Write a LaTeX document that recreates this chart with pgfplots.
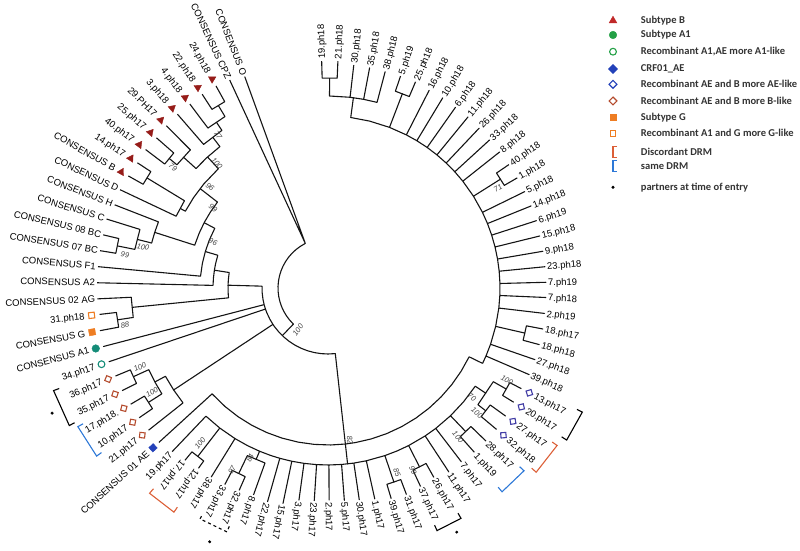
\documentclass[border=0pt]{standalone}
\usepackage{pgfplots}
\pgfplotsset{compat=1.18}
\usepackage{fontspec}
\setmainfont{Liberation Sans}
\newfontfamily\legfont{Carlito}
\definecolor{triR}{RGB}{150,28,25}
\definecolor{legR}{RGB}{192,40,40}
\definecolor{tealA}{RGB}{20,140,120}
\definecolor{legG}{RGB}{35,160,70}
\definecolor{aeB}{RGB}{35,65,185}
\definecolor{dB}{RGB}{65,60,165}
\definecolor{dR}{RGB}{180,75,45}
\definecolor{orng}{RGB}{238,125,35}
\definecolor{discR}{RGB}{220,95,55}
\definecolor{sameB}{RGB}{45,120,215}
\tikzset{
 leaflab/.style={font=\fontsize{9.5}{10}\selectfont, inner sep=0pt, text height=6.8pt, text depth=0pt, text=black},
 bslab/.style={font=\fontsize{7.5}{8}\selectfont\itshape, inner sep=0pt, text=black!75},
 leglab/.style={font=\legfont\bfseries\fontsize{10.5}{12}\selectfont, inner sep=0pt, text=black!80, anchor=west},
}
\pgfplotsset{
 tree/.style={data cs=polar, black!92, line width=1.1pt, line join=round, mark=none},
 brk/.style={data cs=polar, line width=1.1pt, mark=none},
}
\newcommand\leaf[3]{%
 \ifdim #1pt<-130pt
  \node[leaflab,rotate={#1+180},anchor=east] at ([shift={(#1:#2pt)}]C) {#3};
 \else
  \node[leaflab,rotate=#1,anchor=west] at ([shift={(#1:#2pt)}]C) {#3};
 \fi}
\newcommand\bsv[4]{\node[bslab,rotate=#3] at ([shift={(#1pt,#2pt)}]C) {#4};}
\newcommand\legtext[2]{\node[leglab] at ([shift={(312.7pt,#1pt)}]C) {#2};}
\begin{document}
\begin{tikzpicture}
\begin{axis}[scale only axis, width=800pt, height=551pt, xmin=-328, xmax=472, ymin=-263, ymax=288, hide axis, clip=false]
\coordinate (C) at (axis cs:0,0);
% ---------- root
\addplot[tree] coordinates {(-133.8,66) (-133.8,50) (-140,50) (-146,50) (-152,50) (-158,50) (-164,50) (-170,50) (-176,50) (-182,50) (-188,50) (-194,50) (-200,50) (-206,50) (-212,50) (-218,50) (-224,50) (-230,50) (-236,50) (-242,50) (-243,50) (-248.5,227) (-243,50) (-244.7,230)};
% ---------- NH
\addplot[tree] coordinates {(-83.65,157) (-83.65,66) (-90,66) (-96,66) (-102,66) (-108,66) (-114,66) (-120,66) (-126,66) (-132,66) (-138,66) (-144,66) (-146.55,66) (-146.55,185) (-146.55,66) (-152,66) (-158,66) (-161.4,66) (-161.4,231) (-161.4,66) (-165.4,66) (-165.4,232) (-165.4,66) (-170,66) (-176,66) (-181.6,66) (-181.6,100)};
% ---------- M
\addplot[tree] coordinates {(-26,172) (-26,157) (-32,157) (-38,157) (-44,157) (-50,157) (-56,157) (-62,157) (-68,157) (-74,157) (-80,157) (-83.65,157) (-83.65,177) (-83.65,157) (-89,157) (-95,157) (-101,157) (-107,157) (-113,157) (-119,157) (-125,157) (-131,157) (-137.6,157) (-137.6,229)};
% ---------- X
\addplot[tree] coordinates {(82.4,192) (82.4,172) (76,172) (69.05,172) (69.05,208) (69.05,172) (62.9,172) (62.9,222) (62.9,172) (58.9,172) (58.9,222) (58.9,172) (54.8,172) (54.8,221) (54.8,172) (50.7,172) (50.7,221) (50.7,172) (46.6,172) (46.6,220) (46.6,172) (42.5,172) (42.5,219) (42.5,172) (38.4,172) (38.4,219) (38.4,172) (32.25,172) (32.25,204) (32.25,172) (26.1,172) (26.1,219) (26.1,172) (22,172) (22,219) (22,172) (17.9,172) (17.9,219) (17.9,172) (13.8,172) (13.8,218) (13.8,172) (9.7,172) (9.7,218) (9.7,172) (5.6,172) (5.6,218) (5.6,172) (1.5,172) (1.5,218) (1.5,172) (-2.5,172) (-2.5,218) (-2.5,172) (-6.7,172) (-6.7,218) (-6.7,172) (-12.9,172) (-12.9,202) (-12.9,172) (-19.1,172) (-19.1,219) (-19.1,172) (-23.3,172) (-23.3,219) (-23.3,172) (-26,172)};
\addplot[tree] coordinates {(89.55,210) (89.55,192) (83.4,192) (83.4,224) (83.4,192) (79.3,192) (79.3,224) (79.3,192) (75.2,192) (75.2,224)};
\addplot[tree] coordinates {(91.6,227) (91.6,210) (87.5,210) (87.5,227)};
\addplot[tree] coordinates {(71.1,224) (71.1,208) (67,208) (67,224)};
\addplot[tree] coordinates {(34.3,219) (34.3,204) (30.2,204) (30.2,219)};
\addplot[tree] coordinates {(-10.8,219) (-10.8,202) (-15,202) (-15,219)};
% ---------- B
\addplot[tree] coordinates {(-33.7,190) (-33.7,177) (-40,177) (-46.2,177) (-46.2,199) (-46.2,177) (-52.5,177) (-52.5,219) (-52.5,177) (-56.7,177) (-56.7,220) (-56.7,177) (-62.9,177) (-62.9,201) (-62.9,177) (-67,177) (-71.25,177) (-71.25,205) (-71.25,177) (-77.5,177) (-77.5,216) (-77.5,177) (-81.6,177) (-81.6,214) (-81.6,177) (-85.6,177) (-85.6,213) (-85.6,177) (-89.7,177) (-89.7,212) (-89.7,177) (-93.7,177) (-93.7,213) (-93.7,177) (-97.8,177) (-97.8,214) (-97.8,177) (-101.8,177) (-101.8,220) (-101.8,177) (-105.8,177) (-105.8,222) (-105.8,177) (-109,177) (-112.75,177) (-112.75,186) (-112.75,177) (-117,177) (-121.7,177) (-121.7,222) (-121.7,177) (-127.7,177) (-127.7,213) (-127.7,177) (-133.6,177) (-133.6,226)};
\addplot[tree] coordinates {(-29.55,205) (-29.55,190) (-37.9,190) (-37.9,200)};
\addplot[tree] coordinates {(-27.5,218) (-27.5,205) (-31.6,205) (-31.6,218)};
\addplot[tree] coordinates {(-35.8,219) (-35.8,200) (-40,200) (-40,220)};
\addplot[tree] coordinates {(-44.1,220) (-44.1,199) (-48.3,199) (-48.3,220)};
\addplot[tree] coordinates {(-60.8,217) (-60.8,201) (-65,201) (-65,219)};
\addplot[tree] coordinates {(-69.2,221) (-69.2,205) (-73.3,205) (-73.3,220)};
\addplot[tree] coordinates {(-109.8,220) (-109.8,186) (-115.7,186) (-115.7,206)};
\addplot[tree] coordinates {(-113.7,221) (-113.7,206) (-117.7,206) (-117.7,222)};
\addplot[tree] coordinates {(-125.7,222) (-125.7,213) (-129.7,213) (-129.7,224)};
% ---------- recombinant B-like clade
\addplot[tree] coordinates {(-141.6,229) (-141.6,185) (-146.55,185) (-151.5,185) (-151.5,197)};
\addplot[tree] coordinates {(-147.5,213) (-147.5,197) (-151.5,197) (-155.5,197) (-155.5,214)};
\addplot[tree] coordinates {(-145.5,229) (-145.5,213) (-149.5,213) (-149.5,229)};
\addplot[tree] coordinates {(-153.5,230) (-153.5,214) (-157.5,214) (-157.5,230)};
% ---------- left ladder
\addplot[tree] coordinates {(-174.35,197) (-174.35,100) (-178,100) (-181.6,100) (-185,100) (-188.9,100) (-188.9,115)};
\addplot[tree] coordinates {(-181.3,231) (-181.3,115) (-185,115) (-188.9,115) (-192,115) (-196.55,115) (-196.55,128)};
\addplot[tree] coordinates {(-185.3,231) (-185.3,128) (-191,128) (-196.55,128) (-202,128) (-207.8,128) (-207.8,140)};
\addplot[tree] coordinates {(-197.8,182) (-197.8,140) (-203,140) (-208,140) (-213,140) (-217.85,140) (-217.85,162)};
\addplot[tree] coordinates {(-201.3,229) (-201.3,182) (-197.8,182) (-194.3,182) (-194.3,197)};
\addplot[tree] coordinates {(-171.4,213) (-171.4,197) (-177.3,197) (-177.3,231)};
\addplot[tree] coordinates {(-169.4,232) (-169.4,213) (-173.4,213) (-173.4,230)};
\addplot[tree] coordinates {(-191.3,215) (-191.3,197) (-197.3,197) (-197.3,232)};
\addplot[tree] coordinates {(-189.3,231) (-189.3,215) (-193.3,215) (-193.3,231)};
\addplot[tree] coordinates {(-208.3,168) (-208.3,162) (-214,162) (-220,162) (-227.4,162) (-227.4,178)};
\addplot[tree] coordinates {(-205.3,230) (-205.3,168) (-211.3,168) (-211.3,212)};
\addplot[tree] coordinates {(-209.3,229) (-209.3,212) (-213.3,212) (-213.3,228)};
\addplot[tree] coordinates {(-222.15,195) (-222.15,178) (-227,178) (-232.6,178) (-232.6,190)};
\addplot[tree] coordinates {(-219.2,205) (-219.2,195) (-225.1,195) (-225.1,229)};
\addplot[tree] coordinates {(-217.2,229) (-217.2,205) (-221.2,205) (-221.2,228)};
\addplot[tree] coordinates {(-229.1,230) (-229.1,190) (-236.05,190) (-236.05,200)};
\addplot[tree] coordinates {(-233.1,230) (-233.1,200) (-239,200) (-239,213)};
\addplot[tree] coordinates {(-237,231) (-237,213) (-241,213) (-241,231)};
% ---------- brackets
\addplot[brk, black] coordinates {(-26,277) (-26,283) (-32.5,283) (-32.5,277)};
\addplot[brk, discR] coordinates {(-34.5,272) (-34.5,278) (-41.5,278) (-41.5,272)};
\addplot[brk, sameB] coordinates {(-43,262) (-43,268) (-49.5,268) (-49.5,262)};
\addplot[brk, black] coordinates {(-60,260) (-60,266) (-65.8,266) (-65.8,260)};
\addplot[brk, black] coordinates {(-152,287) (-152,293) (-159.5,293) (-159.5,287)};
\addplot[brk, sameB] coordinates {(-144,280) (-144,286) (-151,286) (-151,280)};
\addplot[brk, discR] coordinates {(-124.5,266) (-124.5,272) (-131,272) (-131,266)};
\addplot[brk, black, dashed] coordinates {(-112.5,258) (-112.5,264) (-119,264) (-119,258)};
\addplot[data cs=polar, only marks, mark=*, mark size=1.3pt, black] coordinates {(-155.6,303) (-115,280) (-62.2,276)};
% ---------- tip markers
\addplot[data cs=polar, only marks, mark=triangle*, mark size=4.3pt, triR, mark options={rotate=-29.3}] coordinates {(-209.3,237)};
\addplot[data cs=polar, only marks, mark=triangle*, mark size=4.3pt, triR, mark options={rotate=-33.3}] coordinates {(-213.3,236)};
\addplot[data cs=polar, only marks, mark=triangle*, mark size=4.3pt, triR, mark options={rotate=-37.2}] coordinates {(-217.2,237)};
\addplot[data cs=polar, only marks, mark=triangle*, mark size=4.3pt, triR, mark options={rotate=-41.2}] coordinates {(-221.2,236)};
\addplot[data cs=polar, only marks, mark=triangle*, mark size=4.3pt, triR, mark options={rotate=-45.1}] coordinates {(-225.1,237)};
\addplot[data cs=polar, only marks, mark=triangle*, mark size=4.3pt, triR, mark options={rotate=-49.1}] coordinates {(-229.1,238)};
\addplot[data cs=polar, only marks, mark=triangle*, mark size=4.3pt, triR, mark options={rotate=-53.1}] coordinates {(-233.1,238)};
\addplot[data cs=polar, only marks, mark=triangle*, mark size=4.3pt, triR, mark options={rotate=-57}] coordinates {(-237,239)};
\addplot[data cs=polar, only marks, mark=triangle*, mark size=4.3pt, triR, mark options={rotate=-61}] coordinates {(-241,239)};
\addplot[data cs=polar, only marks, mark=square, mark size=2.6pt, dB, mark options={line width=1.1pt, rotate=17.5}] coordinates {(-27.5,227)};
\addplot[data cs=polar, only marks, mark=square, mark size=2.6pt, dB, mark options={line width=1.1pt, rotate=13.4}] coordinates {(-31.6,227)};
\addplot[data cs=polar, only marks, mark=square, mark size=2.6pt, dB, mark options={line width=1.1pt, rotate=9.2}] coordinates {(-35.8,228)};
\addplot[data cs=polar, only marks, mark=square, mark size=2.6pt, dB, mark options={line width=1.1pt, rotate=5}] coordinates {(-40,229)};
\addplot[data cs=polar, only marks, mark=square, mark size=2.6pt, dR, mark options={line width=1.1pt, rotate=83.4}] coordinates {(-141.6,237)};
\addplot[data cs=polar, only marks, mark=square, mark size=2.6pt, dR, mark options={line width=1.1pt, rotate=79.5}] coordinates {(-145.5,237)};
\addplot[data cs=polar, only marks, mark=square, mark size=2.6pt, dR, mark options={line width=1.1pt, rotate=75.5}] coordinates {(-149.5,237)};
\addplot[data cs=polar, only marks, mark=square, mark size=2.6pt, dR, mark options={line width=1.1pt, rotate=71.5}] coordinates {(-153.5,238)};
\addplot[data cs=polar, only marks, mark=square, mark size=2.6pt, dR, mark options={line width=1.1pt, rotate=67.5}] coordinates {(-157.5,238)};
\addplot[data cs=polar, only marks, mark=square*, mark size=3pt, aeB, mark options={rotate=42.4}] coordinates {(-137.6,237)};
\addplot[data cs=polar, only marks, mark=*, mark size=3.8pt, tealA] coordinates {(-165.4,240)};
\addplot[data cs=polar, only marks, mark=o, mark size=3.4pt, tealA, mark options={line width=1.1pt}] coordinates {(-161.4,239)};
\addplot[data cs=polar, only marks, mark=square*, mark size=3.2pt, orng, mark options={rotate=10.6}] coordinates {(-169.4,240)};
\addplot[data cs=polar, only marks, mark=square, mark size=2.9pt, orng, mark options={line width=1.1pt, rotate=6.6}] coordinates {(-173.4,238)};
% ---------- legend markers
\addplot[only marks, mark=triangle*, mark size=4.5pt, legR] coordinates {(285,267.3)};
\addplot[only marks, mark=*, mark size=3.8pt, legG] coordinates {(285,253)};
\addplot[only marks, mark=o, mark size=3.4pt, legG, mark options={line width=1.1pt}] coordinates {(285,236.3)};
\addplot[only marks, mark=square*, mark size=3.2pt, aeB, mark options={rotate=45}] coordinates {(285,219)};
\addplot[only marks, mark=square, mark size=2.8pt, aeB, mark options={line width=1.1pt, rotate=45}] coordinates {(285,203.7)};
\addplot[only marks, mark=square, mark size=2.8pt, dR, mark options={line width=1.1pt, rotate=45}] coordinates {(285,187)};
\addplot[only marks, mark=square*, mark size=3.2pt, orng] coordinates {(285,170.7)};
\addplot[only marks, mark=square, mark size=2.9pt, orng, mark options={line width=1.1pt}] coordinates {(285,154.7)};
\addplot[discR, line width=1.1pt, mark=none] coordinates {(289,141.8) (285,141.8) (285,130.8) (289,130.8)};
\addplot[sameB, line width=1.1pt, mark=none] coordinates {(289,127.8) (285,127.8) (285,116.8) (289,116.8)};
\addplot[only marks, mark=*, mark size=1.3pt, black] coordinates {(285,100.7)};
\end{axis}
% ---------- leaf labels
\leaf{91.6}{229}{19.ph18}
\leaf{87.5}{229}{21.ph18}
\leaf{83.4}{226}{30.ph18}
\leaf{79.3}{226}{35.ph18}
\leaf{75.2}{226}{38.ph18}
\leaf{71.1}{226}{5.ph19}
\leaf{67.0}{226}{25.ph18}
\leaf{62.9}{224}{16.ph18}
\leaf{58.9}{224}{10.ph18}
\leaf{54.8}{223}{6.ph18}
\leaf{50.7}{223}{11.ph18}
\leaf{46.6}{222}{26.ph18}
\leaf{42.5}{221}{33.ph18}
\leaf{38.4}{221}{8.ph18}
\leaf{34.3}{221}{40.ph18}
\leaf{30.2}{221}{1.ph18}
\leaf{26.1}{221}{5.ph18}
\leaf{22.0}{221}{14.ph18}
\leaf{17.9}{221}{6.ph19}
\leaf{13.8}{220}{15.ph18}
\leaf{9.7}{220}{9.ph18}
\leaf{5.6}{220}{23.ph18}
\leaf{1.5}{220}{7.ph19}
\leaf{-2.5}{220}{7.ph18}
\leaf{-6.7}{220}{2.ph19}
\leaf{-10.8}{221}{18.ph17}
\leaf{-15.0}{221}{18.ph18}
\leaf{-19.1}{221}{27.ph18}
\leaf{-23.3}{221}{39.ph18}
\leaf{-27.5}{233}{13.ph17}
\leaf{-31.6}{233}{20.ph17}
\leaf{-35.8}{234}{27.ph17}
\leaf{-40.0}{235}{32.ph18}
\leaf{-44.1}{222}{28.ph17}
\leaf{-48.3}{222}{1.ph19}
\leaf{-52.5}{221}{7.ph17}
\leaf{-56.7}{222}{11.ph17}
\leaf{-60.8}{219}{26.ph17}
\leaf{-65.0}{221}{37.ph17}
\leaf{-69.2}{223}{31.ph17}
\leaf{-73.3}{222}{39.ph17}
\leaf{-77.5}{218}{1.ph17}
\leaf{-81.6}{216}{30.ph17}
\leaf{-85.6}{215}{5.ph17}
\leaf{-89.7}{214}{2.ph17}
\leaf{-93.7}{215}{23.ph17}
\leaf{-97.8}{216}{3.ph17}
\leaf{-101.8}{222}{15.ph17}
\leaf{-105.8}{224}{22.ph17}
\leaf{-109.8}{222}{8.ph17}
\leaf{-113.7}{223}{32.ph17}
\leaf{-117.7}{224}{33.ph17}
\leaf{-121.7}{224}{38.ph17}
\leaf{-125.7}{224}{12.ph17}
\leaf{-129.7}{226}{17.ph17}
\leaf{-133.6}{228}{19.ph17}
\leaf{-137.6}{244}{CONSENSUS 01 AE}
\leaf{-141.6}{244}{21.ph17}
\leaf{-145.5}{244}{10.ph17}
\leaf{-149.5}{244}{17.ph18.}
\leaf{-153.5}{245}{35.ph17}
\leaf{-157.5}{245}{36.ph17}
\leaf{-161.4}{246}{34.ph17}
\leaf{-165.4}{247}{CONSENSUS A1}
\leaf{-169.4}{247}{CONSENSUS G}
\leaf{-173.4}{245}{31.ph18}
\leaf{-177.3}{233}{CONSENSUS 02 AG}
\leaf{-181.3}{233}{CONSENSUS A2}
\leaf{-185.3}{233}{CONSENSUS F1}
\leaf{-189.3}{233}{CONSENSUS 07 BC}
\leaf{-193.3}{233}{CONSENSUS 08 BC}
\leaf{-197.3}{234}{CONSENSUS C}
\leaf{-201.3}{231}{CONSENSUS H}
\leaf{-205.3}{232}{CONSENSUS D}
\leaf{-209.3}{244}{CONSENSUS B}
\leaf{-213.3}{243}{14.ph17}
\leaf{-217.2}{244}{40.ph17}
\leaf{-221.2}{243}{25.ph17}
\leaf{-225.1}{244}{29.PH17}
\leaf{-229.1}{245}{3.ph18}
\leaf{-233.1}{245}{4.ph18}
\leaf{-237.0}{246}{22.ph18}
\leaf{-241.0}{246}{24.ph18}
\leaf{-244.7}{232}{CONSENSUS CPZ}
\leaf{-248.5}{229}{CONSENSUS O}
% ---------- bootstrap values
\bsv{-110}{153}{-54.3}{77}
\bsv{-111}{125}{-48.4}{100}
\bsv{-155}{121}{-38}{79}
\bsv{-118}{101}{-40.6}{96}
\bsv{-115}{80}{-34.8}{99}
\bsv{-115}{46}{-21.8}{96}
\bsv{-185}{41}{-12.5}{100}
\bsv{-203}{33}{-9.2}{99}
\bsv{-203}{-37}{10.3}{88}
\bsv{-188}{-79}{22.8}{100}
\bsv{-176}{-104}{30.6}{100}
\bsv{-30}{-42}{54.5}{100}
\bsv{-128}{-155}{50.4}{100}
\bsv{-96}{-182}{62.2}{97}
\bsv{-78}{-170}{65.4}{84}
\bsv{22}{-152}{-81.8}{82}
\bsv{69}{-185}{-69.5}{85}
\bsv{85}{-182}{-65}{99}
\bsv{130}{-149}{-48.9}{100}
\bsv{149}{-125}{-40}{100}
\bsv{144}{-109}{-37.1}{70}
\bsv{179}{-92}{-27.2}{100}
\bsv{170}{100}{30.5}{71}
% ---------- legend text
\legtext{267.3}{Subtype B}
\legtext{253}{Subtype A1}
\legtext{236.3}{Recombinant A1,AE more A1-like}
\legtext{219}{CRF01\_AE}
\legtext{203.7}{Recombinant AE and B more AE-like}
\legtext{187}{Recombinant AE and B more B-like}
\legtext{170.7}{Subtype G}
\legtext{154.7}{Recombinant A1 and G more G-like}
\legtext{136.3}{Discordant DRM}
\legtext{122.3}{same DRM}
\legtext{100.7}{partners at time of entry}
\pgfresetboundingbox
\path (current axis.south west) rectangle (current axis.north east);
\end{tikzpicture}
\end{document}
